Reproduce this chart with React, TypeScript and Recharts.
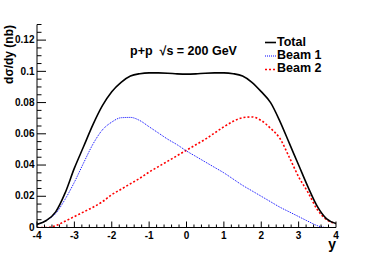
import React from "react";
import { LineChart, Line, XAxis, YAxis } from "recharts";

const rapidity = [-4, -3.75, -3.5, -3.25, -3, -2.75, -2.5, -2.25, -2, -1.75, -1.5, -1.25, -1, -0.75, -0.5, -0.25, 0, 0.25, 0.5, 0.75, 1, 1.25, 1.5, 1.75, 2, 2.25, 2.5, 2.75, 3, 3.25, 3.5, 3.75, 4];
const totalValues = [0.002, 0.0045, 0.010, 0.022, 0.038, 0.052, 0.066, 0.078, 0.087, 0.093, 0.097, 0.0985, 0.099, 0.099, 0.0988, 0.0984, 0.0982, 0.0984, 0.0988, 0.099, 0.099, 0.0985, 0.097, 0.093, 0.087, 0.080, 0.068, 0.054, 0.040, 0.026, 0.0135, 0.0055, 0.0025];
const beam1Values = [0.002, 0.0045, 0.009, 0.018, 0.029, 0.0415, 0.0535, 0.0625, 0.0675, 0.0703, 0.0705, 0.0685, 0.0645, 0.0605, 0.0565, 0.053, 0.049, 0.0455, 0.042, 0.0385, 0.035, 0.031, 0.027, 0.0235, 0.020, 0.0165, 0.013, 0.010, 0.007, 0.004, 0.0012, 0, 0];
const beam2Values = [0, 0, 0.0012, 0.004, 0.007, 0.010, 0.013, 0.0165, 0.021, 0.0245, 0.028, 0.0315, 0.0355, 0.039, 0.0425, 0.046, 0.0495, 0.053, 0.0565, 0.0605, 0.0645, 0.068, 0.0703, 0.0708, 0.0685, 0.0635, 0.057, 0.045, 0.0325, 0.0225, 0.0115, 0.005, 0.0025];

const xMajorTicks = [-4, -3, -2, -1, 0, 1, 2, 3, 4];
const xTickLabels = ["-4", "-3", "-2", "-1", "0", "1", "2", "3", "4"];
const yMajorTicks = [0, 0.02, 0.04, 0.06, 0.08, 0.1, 0.12];
const yTickLabels = ["0", "0.02", "0.04", "0.06", "0.08", "0.1", "0.12"];
const xMinorStep = 0.2;
const yMinorStep = 0.005;

const xAllTicks = Array.from({ length: 41 }, (_, i) => Math.round((-4 + i * xMinorStep) * 1000) / 1000);
const yAllTicks = Array.from({ length: 27 }, (_, i) => Math.round(i * yMinorStep * 10000) / 10000);

const data = rapidity.map((y, i) => ({
  y,
  total: totalValues[i],
  beam1: beam1Values[i],
  beam2: beam2Values[i],
}));

const FONT = "'Liberation Sans', Arial, Helvetica, sans-serif";

const findIdx = (arr: number[], v: number) => arr.findIndex((a) => Math.abs(a - v) < 1e-6);

const BottomTick = (props: any) => {
  const { x, y, payload } = props;
  const idx = findIdx(xMajorTicks, payload.value);
  const len = idx >= 0 ? 6 : 3;
  return (
    <g>
      <line x1={x} x2={x} y1={y} y2={y - len} stroke="#000" strokeWidth={1} />
      {idx >= 0 && (
        <text x={x} y={y + 11} textAnchor="middle" fontFamily={FONT} fontWeight="bold" fontSize={10} fill="#000">
          {xTickLabels[idx]}
        </text>
      )}
    </g>
  );
};

const TopTick = (props: any) => {
  const { x, y, payload } = props;
  const idx = findIdx(xMajorTicks, payload.value);
  const len = idx >= 0 ? 6 : 3;
  return <line x1={x} x2={x} y1={y} y2={y + len} stroke="#000" strokeWidth={1} />;
};

const LeftTick = (props: any) => {
  const { x, y, payload } = props;
  const idx = findIdx(yMajorTicks, payload.value);
  const len = idx >= 0 ? 9 : 4.5;
  return (
    <g>
      <line x1={x} x2={x + len} y1={y} y2={y} stroke="#000" strokeWidth={1} />
      {idx >= 0 && (
        <text x={x - 2.5} y={y + 3.2} textAnchor="end" fontFamily={FONT} fontWeight="bold" fontSize={10} fill="#000">
          {yTickLabels[idx]}
        </text>
      )}
    </g>
  );
};

const RightTick = (props: any) => {
  const { x, y, payload } = props;
  const idx = findIdx(yMajorTicks, payload.value);
  const len = idx >= 0 ? 9 : 4.5;
  return <line x1={x} x2={x - len} y1={y} y2={y} stroke="#000" strokeWidth={1} />;
};

export default function App() {
  return (
    <div style={{ position: "absolute", left: 0, top: 0, width: 374, height: 253, background: "#fff" }}>
      <LineChart width={374} height={253} data={data} margin={{ top: 24.5, right: 38, bottom: 0, left: 0 }}>
        <XAxis
          dataKey="y"
          type="number"
          domain={[-4, 4]}
          allowDataOverflow
          ticks={xAllTicks}
          interval={0}
          tick={(p: any) => <BottomTick {...p} />}
          tickLine={false}
          tickSize={0}
          tickMargin={0}
          height={25.5}
          axisLine={{ stroke: "#000", strokeWidth: 1 }}
        />
        <XAxis
          xAxisId="top"
          orientation="top"
          dataKey="y"
          type="number"
          domain={[-4, 4]}
          allowDataOverflow
          ticks={xAllTicks}
          interval={0}
          tick={(p: any) => <TopTick {...p} />}
          tickLine={false}
          tickSize={0}
          tickMargin={0}
          height={0}
          axisLine={{ stroke: "#000", strokeWidth: 1 }}
        />
        <YAxis
          type="number"
          domain={[0, 0.13]}
          allowDataOverflow
          ticks={yAllTicks}
          interval={0}
          tick={(p: any) => <LeftTick {...p} />}
          tickLine={false}
          tickSize={0}
          tickMargin={0}
          width={37}
          axisLine={{ stroke: "#000", strokeWidth: 1 }}
        />
        <YAxis
          yAxisId="right"
          orientation="right"
          type="number"
          domain={[0, 0.13]}
          allowDataOverflow
          ticks={yAllTicks}
          interval={0}
          tick={(p: any) => <RightTick {...p} />}
          tickLine={false}
          tickSize={0}
          tickMargin={0}
          width={0}
          axisLine={{ stroke: "#000", strokeWidth: 1 }}
        />
        <Line type="monotone" dataKey="beam2" stroke="#ff0000" strokeWidth={1.6} strokeDasharray="2 2" dot={false} isAnimationActive={false} />
        <Line type="monotone" dataKey="beam1" stroke="#0000ff" strokeWidth={1} strokeDasharray="1 1" dot={false} isAnimationActive={false} />
        <Line type="monotone" dataKey="total" stroke="#000" strokeWidth={1.6} dot={false} isAnimationActive={false} />

        <text x={13} y={25} transform="rotate(-90 13 25)" textAnchor="end" fontFamily={FONT} fontWeight="bold" fontSize={12} fill="#000">
          dσ/dy (nb)
        </text>
        <text x={336} y={248.5} textAnchor="end" fontFamily={FONT} fontWeight="bold" fontSize={14} fill="#000">
          y
        </text>
        <text x={130} y={55} fontFamily={FONT} fontWeight="bold" fontSize={12.5} fill="#000" xmlSpace="preserve">
          {"p+p  √s = 200 GeV"}
        </text>

        <line x1={265} x2={276} y1={42.5} y2={42.5} stroke="#000" strokeWidth={1.6} />
        <line x1={265} x2={276} y1={56} y2={56} stroke="#0000ff" strokeWidth={1} strokeDasharray="1 1" />
        <line x1={265} x2={276} y1={69.5} y2={69.5} stroke="#ff0000" strokeWidth={1.6} strokeDasharray="2 2" />
        <text x={277} y={46} fontFamily={FONT} fontWeight="bold" fontSize={12.5} fill="#000">Total</text>
        <text x={277} y={58.5} fontFamily={FONT} fontWeight="bold" fontSize={12.5} fill="#000">Beam 1</text>
        <text x={277} y={71.5} fontFamily={FONT} fontWeight="bold" fontSize={12.5} fill="#000">Beam 2</text>
      </LineChart>
    </div>
  );
}
